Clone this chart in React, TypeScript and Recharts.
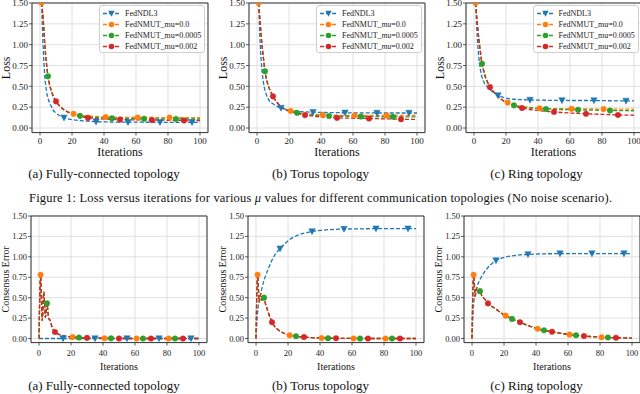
import React from 'react';
import { LineChart, Line, XAxis, YAxis, CartesianGrid } from 'recharts';

// ---------- data ----------
const LOSS_ITERS = [1, 2, 3, 4, 5, 6, 7, 8, 10, 12, 15, 18, 21, 25, 30, 35, 41, 45, 50, 55, 61, 65, 70, 75, 81, 85, 90, 95, 100];
const CE_ITERS = [0, 1, 2, 3, 4, 5, 6, 7, 8, 10, 12, 15, 18, 21, 25, 30, 35, 41, 45, 50, 55, 61, 65, 70, 75, 81, 85, 90, 95, 100];

const X_TICKS = [0, 20, 40, 60, 80, 100];
const Y_TICKS = [0, 0.25, 0.5, 0.75, 1.0, 1.25, 1.5];

const SERIES_NAMES = ['FedNDL3', 'FedNMUT_mu=0.0', 'FedNMUT_mu=0.0005', 'FedNMUT_mu=0.002'];
const CAPTIONS = ['(a) Fully-connected topology', '(b) Torus topology', '(c) Ring topology'];

const MARK_BLUE = [15, 35, 55, 75, 95];
const MARK_ORANGE = [1, 21, 41, 61, 81];
const MARK_GREEN = [5, 25, 45, 65, 85];
const MARK_RED = [10, 30, 50, 70, 90];

// Loss – fully connected
const lossFcBlue = [1.5, 0.95, 0.62, 0.45, 0.36, 0.3, 0.26, 0.22, 0.18, 0.15, 0.124, 0.108, 0.098, 0.09, 0.082, 0.076, 0.073, 0.072, 0.071, 0.07, 0.07, 0.069, 0.069, 0.068, 0.068, 0.068, 0.068, 0.068, 0.068];
const lossFcOrange = [1.5, 1.3, 1.0, 0.78, 0.63, 0.52, 0.45, 0.4, 0.32, 0.27, 0.22, 0.19, 0.17, 0.155, 0.145, 0.138, 0.132, 0.13, 0.128, 0.127, 0.127, 0.126, 0.126, 0.125, 0.125, 0.125, 0.124, 0.124, 0.124];
const lossFcGreen = [1.5, 1.3, 1.0, 0.78, 0.62, 0.52, 0.45, 0.4, 0.32, 0.27, 0.22, 0.188, 0.165, 0.146, 0.134, 0.127, 0.121, 0.118, 0.115, 0.113, 0.112, 0.111, 0.11, 0.11, 0.109, 0.109, 0.108, 0.108, 0.108];
const lossFcRed = [1.5, 1.3, 1.0, 0.78, 0.62, 0.52, 0.45, 0.39, 0.32, 0.27, 0.215, 0.183, 0.16, 0.14, 0.122, 0.113, 0.107, 0.104, 0.101, 0.099, 0.097, 0.096, 0.095, 0.094, 0.093, 0.092, 0.091, 0.09, 0.09];

// Loss – torus
const lossTorusBlue = [1.5, 1.0, 0.72, 0.55, 0.45, 0.39, 0.35, 0.32, 0.29, 0.265, 0.24, 0.225, 0.212, 0.2, 0.193, 0.19, 0.187, 0.185, 0.184, 0.183, 0.182, 0.181, 0.181, 0.18, 0.18, 0.18, 0.18, 0.18, 0.18];
const lossTorusOrange = [1.5, 1.25, 1.02, 0.84, 0.69, 0.58, 0.51, 0.46, 0.38, 0.32, 0.26, 0.225, 0.205, 0.188, 0.175, 0.166, 0.158, 0.155, 0.153, 0.152, 0.151, 0.15, 0.15, 0.15, 0.15, 0.15, 0.15, 0.15, 0.15];
const lossTorusGreen = [1.5, 1.25, 1.02, 0.84, 0.68, 0.58, 0.51, 0.46, 0.38, 0.32, 0.258, 0.222, 0.2, 0.182, 0.165, 0.155, 0.147, 0.144, 0.142, 0.14, 0.139, 0.138, 0.137, 0.136, 0.135, 0.135, 0.134, 0.134, 0.133];
const lossTorusRed = [1.5, 1.25, 1.02, 0.84, 0.68, 0.58, 0.51, 0.46, 0.38, 0.32, 0.255, 0.218, 0.196, 0.175, 0.155, 0.142, 0.132, 0.127, 0.122, 0.119, 0.117, 0.115, 0.114, 0.112, 0.11, 0.108, 0.105, 0.104, 0.103];

// Loss – ring
const lossRingBlue = [1.5, 1.1, 0.85, 0.7, 0.61, 0.56, 0.52, 0.5, 0.46, 0.43, 0.39, 0.37, 0.355, 0.345, 0.34, 0.336, 0.334, 0.333, 0.332, 0.331, 0.33, 0.33, 0.33, 0.329, 0.328, 0.327, 0.326, 0.325, 0.325];
const lossRingOrange = [1.5, 1.27, 1.07, 0.91, 0.78, 0.69, 0.62, 0.57, 0.49, 0.44, 0.38, 0.335, 0.305, 0.28, 0.258, 0.246, 0.238, 0.234, 0.232, 0.231, 0.23, 0.229, 0.228, 0.228, 0.227, 0.227, 0.226, 0.226, 0.226];
const lossRingGreen = [1.5, 1.27, 1.07, 0.91, 0.77, 0.69, 0.62, 0.57, 0.49, 0.44, 0.38, 0.333, 0.3, 0.272, 0.25, 0.24, 0.232, 0.228, 0.225, 0.222, 0.22, 0.218, 0.216, 0.214, 0.212, 0.21, 0.209, 0.208, 0.207];
const lossRingRed = [1.5, 1.27, 1.07, 0.91, 0.77, 0.69, 0.62, 0.57, 0.49, 0.44, 0.378, 0.33, 0.295, 0.265, 0.24, 0.222, 0.208, 0.2, 0.193, 0.186, 0.179, 0.175, 0.171, 0.167, 0.163, 0.16, 0.157, 0.155, 0.153];

// Consensus error – fully connected
const ceFcBlue = [0, 0, 0, 0, 0, 0, 0, 0, 0, 0, 0, 0, 0, 0, 0, 0, 0, 0, 0, 0, 0, 0, 0, 0, 0, 0, 0, 0, 0, 0];
const ceFcMu = [0, 0.78, 0.22, 0.57, 0.26, 0.43, 0.25, 0.22, 0.15, 0.08, 0.055, 0.035, 0.024, 0.017, 0.012, 0.008, 0.005, 0.003, 0.002, 0.001, 0, 0, 0, 0, 0, 0, 0, 0, 0, 0];

// Consensus error – torus
const ceTorusBlue = [0, 0.32, 0.46, 0.55, 0.64, 0.71, 0.77, 0.82, 0.87, 0.96, 1.03, 1.1, 1.16, 1.21, 1.255, 1.29, 1.31, 1.325, 1.332, 1.337, 1.34, 1.342, 1.343, 1.344, 1.345, 1.345, 1.345, 1.345, 1.345, 1.345];
const ceTorusMu = [0, 0.78, 0.45, 0.55, 0.46, 0.5, 0.42, 0.36, 0.3, 0.2, 0.14, 0.09, 0.06, 0.04, 0.028, 0.018, 0.01, 0.006, 0.004, 0.003, 0.002, 0.001, 0, 0, 0, 0, 0, 0, 0, 0];

// Consensus error – ring
const ceRingBlue = [0, 0.42, 0.55, 0.63, 0.68, 0.72, 0.76, 0.79, 0.82, 0.87, 0.91, 0.955, 0.98, 0.998, 1.012, 1.024, 1.03, 1.035, 1.037, 1.038, 1.04, 1.04, 1.04, 1.04, 1.04, 1.04, 1.04, 1.04, 1.04, 1.04];
const ceRingMu = [0, 0.78, 0.52, 0.62, 0.56, 0.58, 0.53, 0.5, 0.48, 0.43, 0.4, 0.36, 0.315, 0.28, 0.24, 0.2, 0.16, 0.12, 0.1, 0.083, 0.065, 0.047, 0.04, 0.03, 0.023, 0.016, 0.013, 0.01, 0.007, 0.005];

// ---------- styling ----------
const COLORS = { blue: '#1f77b4', orange: '#ff7f0e', green: '#2ca02c', red: '#d62728' };
const FRAME = '#333333';
const GRID = '#dcdcdc';
const FONT = '"Liberation Serif", "Times New Roman", "DejaVu Serif", serif';

const buildRows = (iters: number[], b: number[], o: number[], g: number[], r: number[]) =>
  iters.map((it, i) => ({ it, blue: b[i], orange: o[i], green: g[i], red: r[i] }));

const ROWS_LOSS = [
  buildRows(LOSS_ITERS, lossFcBlue, lossFcOrange, lossFcGreen, lossFcRed),
  buildRows(LOSS_ITERS, lossTorusBlue, lossTorusOrange, lossTorusGreen, lossTorusRed),
  buildRows(LOSS_ITERS, lossRingBlue, lossRingOrange, lossRingGreen, lossRingRed),
];
const ROWS_CE = [
  buildRows(CE_ITERS, ceFcBlue, ceFcMu, ceFcMu, ceFcMu),
  buildRows(CE_ITERS, ceTorusBlue, ceTorusMu, ceTorusMu, ceTorusMu),
  buildRows(CE_ITERS, ceRingBlue, ceRingMu, ceRingMu, ceRingMu),
];

const makeDot = (marks: number[], color: string, tri: boolean) => (props: any) => {
  const { cx, cy, payload, index } = props;
  if (cx == null || cy == null || !payload || !marks.includes(payload.it)) return <g key={`n${index}`} />;
  if (tri) {
    const s = 3.2;
    return (
      <polygon
        key={`t${index}`}
        points={`${cx - s},${cy - s * 0.85} ${cx + s},${cy - s * 0.85} ${cx},${cy + s}`}
        fill={color}
        stroke={color}
        strokeWidth={0.5}
      />
    );
  }
  return <circle key={`c${index}`} cx={cx} cy={cy} r={2.8} fill={color} stroke={color} strokeWidth={0.4} />;
};

const SERIES = [
  { key: 'blue', color: COLORS.blue, marks: MARK_BLUE, tri: true },
  { key: 'orange', color: COLORS.orange, marks: MARK_ORANGE, tri: false },
  { key: 'green', color: COLORS.green, marks: MARK_GREEN, tri: false },
  { key: 'red', color: COLORS.red, marks: MARK_RED, tri: false },
];

const PLOT_W = 176;
const YW = 34;

function Panel({ fl, ft, plotH, yMin, rows, tickFont, tickMargin }: any) {
  const W = YW + PLOT_W + 6;
  const H = 6 + plotH + 30;
  return (
    <div style={{ position: 'absolute', left: fl - YW, top: ft - 6, width: W, height: H }}>
      <LineChart width={W} height={H} data={rows} margin={{ top: 5, right: 5, bottom: 0, left: 0 }}>
        <CartesianGrid stroke={GRID} strokeWidth={0.9} />
        <XAxis
          dataKey="it"
          type="number"
          domain={[-5, 105]}
          ticks={X_TICKS}
          interval={0}
          height={30}
          tickSize={3}
          tickMargin={tickMargin}
          allowDataOverflow
          axisLine={{ stroke: FRAME, strokeWidth: 1 }}
          tickLine={{ stroke: FRAME, strokeWidth: 0.8 }}
          tick={{ fontSize: tickFont, fill: '#222', fontFamily: FONT }}
        />
        <YAxis
          type="number"
          domain={[yMin, 1.5]}
          ticks={Y_TICKS}
          interval={0}
          width={YW}
          tickSize={3}
          tickMargin={1}
          allowDataOverflow
          tickFormatter={(v: number) => v.toFixed(2)}
          axisLine={{ stroke: FRAME, strokeWidth: 1 }}
          tickLine={{ stroke: FRAME, strokeWidth: 0.8 }}
          tick={{ fontSize: tickFont, fill: '#222', fontFamily: FONT }}
        />
        <XAxis xAxisId="t" orientation="top" height={1} type="number" domain={[-5, 105]} tick={false} tickLine={false} axisLine={{ stroke: FRAME, strokeWidth: 1 }} />
        <YAxis yAxisId="r" orientation="right" width={1} type="number" domain={[0, 1]} tick={false} tickLine={false} axisLine={{ stroke: FRAME, strokeWidth: 1 }} />
        {SERIES.map((s) => (
          <Line
            key={s.key}
            type="monotone"
            dataKey={s.key}
            stroke={s.color}
            strokeWidth={1.3}
            strokeDasharray="4 2"
            dot={makeDot(s.marks, s.color, s.tri)}
            activeDot={false}
            isAnimationActive={false}
          />
        ))}
      </LineChart>
    </div>
  );
}

function LegendBox({ right, italicMu }: { right: number; italicMu: boolean }) {
  const w = 106;
  return (
    <div
      style={{
        position: 'absolute',
        left: right - w,
        top: 5,
        width: w,
        height: 48,
        boxSizing: 'border-box',
        border: '1px solid #cfcfcf',
        borderRadius: 3,
        background: 'rgba(255,255,255,0.85)',
        fontFamily: FONT,
        fontSize: 8,
        color: '#222',
      }}
    >
      {SERIES.map((s, i) => {
        const name = SERIES_NAMES[i];
        const parts = name.split('_mu');
        return (
          <div key={s.key} style={{ position: 'absolute', left: 0, top: 2 + i * 11, height: 11, width: w }}>
            <svg width={22} height={11} style={{ position: 'absolute', left: 2, top: 0 }}>
              <line x1={1} y1={5.5} x2={18} y2={5.5} stroke={s.color} strokeWidth={1.3} strokeDasharray="4 2" />
              {s.tri ? (
                <polygon points={`${9.5 - 3.2},${5.5 - 2.7} ${9.5 + 3.2},${5.5 - 2.7} 9.5,${5.5 + 3.2}`} fill={s.color} />
              ) : (
                <circle cx={9.5} cy={5.5} r={2.8} fill={s.color} />
              )}
            </svg>
            <span style={{ position: 'absolute', left: 25, top: 0, lineHeight: '11px', whiteSpace: 'nowrap' }}>
              {parts.length > 1 ? (
                <>
                  {parts[0]}_{italicMu ? <i>mu</i> : 'mu'}
                  {parts[1]}
                </>
              ) : (
                name
              )}
            </span>
          </div>
        );
      })}
    </div>
  );
}

const TOP = { ft: 3, plotH: 129.6, yMin: -0.055, fls: [32, 249, 465.5] };
const BOT = { ft: 216, plotH: 126.6, yMin: -0.05, fls: [31, 248, 464] };
const CAP_X = [104, 320.5, 536.5];

export default function App() {
  return (
    <div
      style={{
        position: 'fixed',
        left: 0,
        top: 0,
        width: 640,
        height: 394,
        overflow: 'hidden',
        background: '#fff',
        fontFamily: FONT,
      }}
    >
      <svg width={640} height={394} style={{ position: 'absolute', left: 0, top: 0 }} fontFamily={FONT}>
        {TOP.fls.map((fl, i) => (
          <g key={`tl${i}`}>
            <text x={fl - 25.5} y={TOP.ft + TOP.plotH / 2} fontSize={12} fill="#111" textAnchor="middle" dominantBaseline="central" transform={`rotate(-90 ${fl - 25.5} ${TOP.ft + TOP.plotH / 2})`}>
              Loss
            </text>
            <text x={fl + PLOT_W / 2} y={152} fontSize={12} fill="#111" textAnchor="middle" dominantBaseline="central">
              Iterations
            </text>
            <text x={CAP_X[i]} y={173} fontSize={13} fill="#111" textAnchor="middle" dominantBaseline="central">
              {CAPTIONS[i]}
            </text>
          </g>
        ))}
        <text x={29} y={198} fontSize={12.5} fill="#111" textLength={583} lengthAdjust="spacing" dominantBaseline="central">
          Figure 1: Loss versus iterations for various <tspan fontStyle="italic">μ</tspan> values for different communication topologies (No noise scenario).
        </text>
        {BOT.fls.map((fl, i) => (
          <g key={`bl${i}`}>
            <text x={fl - 25} y={BOT.ft + BOT.plotH / 2} fontSize={10} fill="#111" textAnchor="middle" dominantBaseline="central" transform={`rotate(-90 ${fl - 25} ${BOT.ft + BOT.plotH / 2})`}>
              Consensus Error
            </text>
            <text x={fl + PLOT_W / 2} y={366} fontSize={10} fill="#111" textAnchor="middle" dominantBaseline="central">
              Iterations
            </text>
            <text x={CAP_X[i]} y={385} fontSize={13} fill="#111" textAnchor="middle" dominantBaseline="central">
              {CAPTIONS[i]}
            </text>
          </g>
        ))}
      </svg>
      {TOP.fls.map((fl, i) => (
        <Panel key={`tp${i}`} fl={fl} ft={TOP.ft} plotH={TOP.plotH} yMin={TOP.yMin} rows={ROWS_LOSS[i]} tickFont={9} tickMargin={2} />
      ))}
      {BOT.fls.map((fl, i) => (
        <Panel key={`bp${i}`} fl={fl} ft={BOT.ft} plotH={BOT.plotH} yMin={BOT.yMin} rows={ROWS_CE[i]} tickFont={8.5} tickMargin={4} />
      ))}
      {TOP.fls.map((fl, i) => (
        <LegendBox key={`lg${i}`} right={fl + PLOT_W - 3} italicMu={i === 1} />
      ))}
    </div>
  );
}
